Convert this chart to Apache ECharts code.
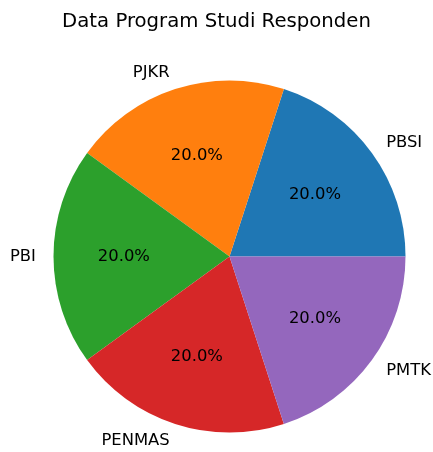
<html>
<head>
	<meta charset="utf-8">
	<title>Data Program Studi Responden</title>
	<script src="https://cdn.jsdelivr.net/npm/echarts@6/dist/echarts.min.js"></script>
	<style type="text/css">
		html, body { margin: 0; padding: 0; background: #fff; }
	</style>
</head>
	<body>
		<div id="eCharts-container" style="width:433px;height:452px"></div>
	<script type="text/javascript">
		// data
		var prodi = ['PBSI', 'PJKR', 'PBI', 'PENMAS', 'PMTK'];
		var jumlah = [1, 1, 1, 1, 1];
		var warna = ['#1f77b4', '#ff7f0e', '#2ca02c', '#d62728', '#9467bd'];

		var R = 176;
		var myChart = echarts.init(document.getElementById('eCharts-container'));
		var pieData = [];
		for (var x = 0; x < prodi.length; x++) {
			pieData.push({name: prodi[x], value: jumlah[x], itemStyle: {color: warna[x]}});
		}
		var labelData = [];
		for (var x = 0; x < prodi.length; x++) {
			labelData.push({name: prodi[x], value: jumlah[x]});
		}
		var font = 'DejaVu Sans';
		var option = {
			animation: false,
			title: {
				text: 'Data Program Studi Responden',
				left: 'center', top: 7,
				textStyle: {fontFamily: font, fontSize: 19.7, fontWeight: 'normal', color: '#000'}
			},
			series: [{
				type: 'pie',
				center: [229.5, 256.5],
				radius: [0, R],
				startAngle: 0,
				clockwise: false,
				avoidLabelOverlap: false,
				silent: true,
				data: pieData,
				label: {
					show: true, position: 'outside', alignTo: 'none',
					distanceToLabelLine: 0,
					padding: [4, 0, 0, 0],
					fontFamily: font, fontSize: 16.4, color: '#000'
				},
				labelLine: {show: false, length: R * 0.1, length2: 0}
			}, {
				type: 'pie',
				center: [229.5, 256.5],
				radius: [R * 0.2 - 6, R],
				startAngle: 0,
				clockwise: false,
				silent: true,
				data: labelData,
				itemStyle: {color: 'rgba(0,0,0,0)'},
				label: {
					show: true, position: 'inside',
					padding: [4, 0, 0, 0],
					fontFamily: font, fontSize: 16.4, color: '#000',
					formatter: function (p) { return p.percent.toFixed(1) + '%'; }
				},
				labelLine: {show: false}
			}]
		};
		myChart.setOption(option);
	</script>
	</body>
</html>
